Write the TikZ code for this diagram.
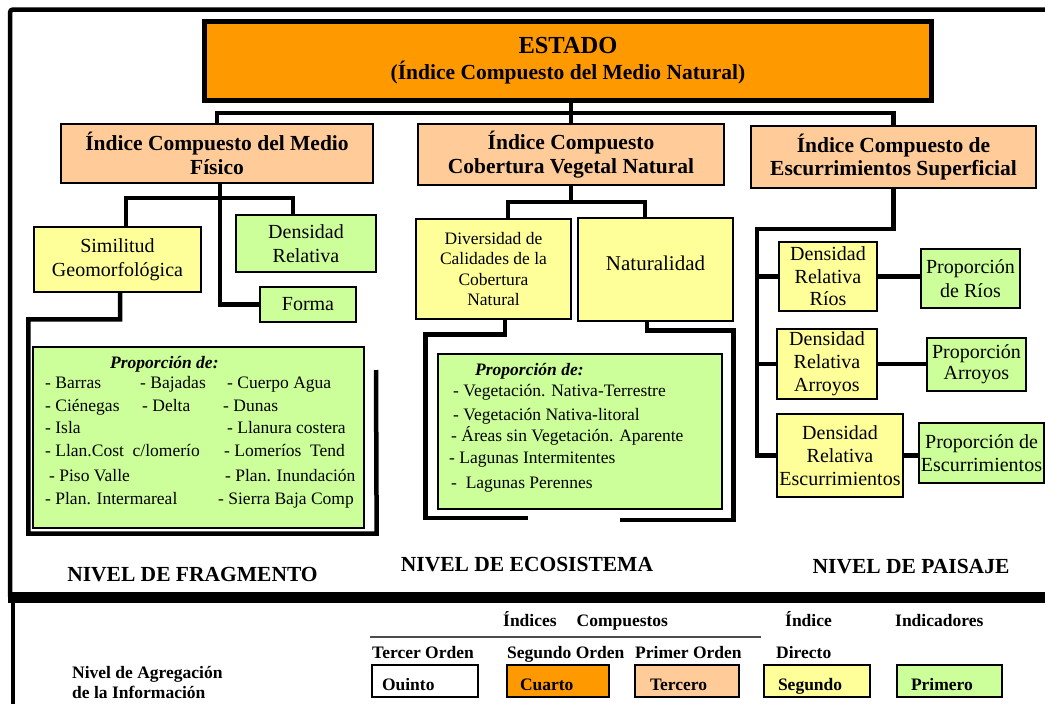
\documentclass[tikz,border=0pt]{standalone}
\usepackage{fontspec}
\setmainfont{Liberation Serif}
\usetikzlibrary{calc}
\definecolor{cOrange}{HTML}{FF9900}
\definecolor{cPeach}{HTML}{FFCC99}
\definecolor{cYellow}{HTML}{FFFF99}
\definecolor{cGreen}{HTML}{CCFF99}
\begin{document}
\begin{tikzpicture}[x=1pt,y=-1pt,
  box/.style={draw=black, line width=1.3pt, inner sep=0pt, align=center, font=\fontsize{20}{23}\selectfont},
  estado/.style={draw=black, line width=5pt, fill=cOrange, inner sep=0pt, align=center},
  peach/.style={box, fill=cPeach, font=\bfseries\fontsize{21.5}{23.5}\selectfont},
  yel/.style={box, fill=cYellow},
  grn/.style={box, fill=cGreen},
  conn/.style={line width=4.5pt},
  lst/.style={anchor=base west, inner sep=0pt, font=\fontsize{17.5}{20}\selectfont},
  hdr/.style={anchor=base west, inner sep=0pt, font=\bfseries\itshape\fontsize{17.5}{20}\selectfont},
  lvl/.style={inner sep=0pt, font=\bfseries\fontsize{21.5}{24}\selectfont},
  lg/.style={anchor=base west, inner sep=0pt, font=\bfseries\fontsize{17.5}{20}\selectfont},
  legbox/.style={draw=black, line width=1.3pt, minimum height=32pt, inner ysep=0pt, align=left,
     text height=18pt, text depth=0pt, font=\bfseries\fontsize{17.5}{20}\selectfont}
]
\useasboundingbox (0,0) rectangle (1045,704);
\clip (0,0) rectangle (1045,704);
\fill[white] (0,0) rectangle (1045,704);

% frames
\draw[line width=4.5pt, rounded corners=3pt] (1060,9.5) -- (10,9.5) -- (10,597);
\draw[line width=11pt] (8,597.5) -- (1060,597.5);
\draw[line width=4.5pt] (13,597) -- (13,712);

% level 1
\node[estado, minimum width=727pt, minimum height=79pt] (est) at (568,61)
  {\bfseries\fontsize{24.5}{28}\selectfont ESTADO\\[6pt]\bfseries\fontsize{21.5}{28}\selectfont (Índice Compuesto del Medio Natural)};

% level 2
\node[peach, minimum width=312pt, minimum height=59pt] (A) at (217,153.5) {Índice Compuesto del Medio\\Físico};
\node[peach, minimum width=306pt, minimum height=61pt] (B) at (571,154.5) {Índice Compuesto\\Cobertura Vegetal Natural};
\node[peach, minimum width=285pt, minimum height=62pt] (C) at (893.5,157) {Índice Compuesto de\\Escurrimientos Superficial};

% level 3 - fragmento
\node[yel, minimum width=167pt, minimum height=65pt, font=\fontsize{20}{24}\selectfont] (sim) at (117.5,259.5) {Similitud\\Geomorfológica};
\node[grn, minimum width=140pt, minimum height=57pt, font=\fontsize{20}{24}\selectfont] (dr) at (306,243.5) {Densidad\\Relativa};
\node[grn, minimum width=96pt, minimum height=35pt] (forma) at (308,304.5) {Forma};

% level 3 - ecosistema
\node[yel, minimum width=155pt, minimum height=100pt, font=\fontsize{17.5}{20.5}\selectfont] (div) at (493.5,269) {Diversidad de\\Calidades de la\\Cobertura\\Natural};
\node[yel, minimum width=155pt, minimum height=103pt, text depth=13pt, font=\fontsize{21}{24}\selectfont] (nat) at (655.5,269.5) {Naturalidad};

% level 3 - paisaje
\node[yel, minimum width=98pt, minimum height=69pt, font=\fontsize{20}{22.5}\selectfont] (drr) at (828,276.5) {Densidad\\Relativa\\Ríos};
\node[grn, minimum width=99pt, minimum height=59pt, font=\fontsize{20}{24}\selectfont] (pr) at (970.5,278.5) {Proporción\\de Ríos};
\node[yel, minimum width=100pt, minimum height=70pt, font=\fontsize{20}{23}\selectfont] (dra) at (827,364) {Densidad\\Relativa\\Arroyos};
\node[grn, minimum width=99pt, minimum height=53pt, font=\fontsize{20}{21}\selectfont] (pa) at (976.5,364.5) {Proporción\\Arroyos};
\node[yel, minimum width=126pt, minimum height=83pt, font=\fontsize{20}{23}\selectfont] (dre) at (840,455.5) {Densidad\\Relativa\\Escurrimientos};
\node[grn, minimum width=125pt, minimum height=60pt, font=\fontsize{20}{23}\selectfont] (pe) at (981.5,453) {Proporción de\\Escurrimientos};

% big green boxes
\node[grn, minimum width=331pt, minimum height=181pt] (fg) at (198.5,437.5) {};
\node[grn, minimum width=284pt, minimum height=155pt] (eco) at (580,431.5) {};

% fragment list
\node[hdr] (fh) at (110,368) {Proporción de:};
\node[lst] (f11) at (45,388) {- Barras};
\node[lst] (f12) at (140,388) {- Bajadas};
\node[lst] (f13) at (227,388) {- Cuerpo Agua};
\node[lst] (f21) at (45,411) {- Ciénegas};
\node[lst] (f22) at (142,411) {- Delta};
\node[lst] (f23) at (223,411) {- Dunas};
\node[lst] (f31) at (45,433) {- Isla};
\node[lst] (f33) at (227,433) {- Llanura costera};
\node[lst] (f41) at (45,456) {- Llan.Cost\ \ c/lomerío};
\node[lst] (f43) at (224,456) {- Lomeríos\ \ Tend};
\node[lst] (f51) at (49,481) {- Piso Valle};
\node[lst] (f53) at (225,481) {- Plan. Inundación};
\node[lst] (f61) at (45,504) {- Plan. Intermareal};
\node[lst] (f63) at (218,504) {- Sierra Baja Comp};

% ecosystem list
\node[hdr] (eh) at (475,375) {Proporción de:};
\node[lst] (e1t) at (453,396) {- Vegetación. Nativa-Terrestre};
\node[lst] (e2t) at (453,420) {- Vegetación Nativa-litoral};
\node[lst] (e3t) at (451,441) {- Áreas sin Vegetación. Aparente};
\node[lst] (e4t) at (449,463) {- Lagunas Intermitentes};
\node[lst] (e5t) at (451,488) {-\ \ Lagunas Perennes};

% connectors top
\coordinate (t1) at (571,113);
\draw[conn] (est.south -| B.north) -- (B.north);
\draw[conn] (A.north) |- (t1) -| (C.north);

% connectors fragment
\coordinate (a1) at (220,198);
\draw[conn] ([xshift=8.5pt]sim.north) |- (a1) -| ([xshift=-13pt]dr.north);
\draw[conn] ([xshift=3pt]A.south) |- (forma.west);
\coordinate (f1) at (376,370);
\draw[conn] ([xshift=2.5pt]sim.south) |- ($(fg.north west)+(-4,-27)$) |- ($(fg.south east)+(12,5)$) -- (f1);

% connectors ecosystem
\draw[conn] (B.south) |- (508,202) -- ([xshift=14.5pt]div.north);
\draw[conn] (B.south) |- (645,202) -- ([xshift=-10.5pt]nat.north);
\coordinate (e1) at (528,518);
\coordinate (e2) at (620,520);
\draw[conn] ([xshift=11.5pt]div.south) |- ($(eco.north west)+(-12,-19)$) |- (e1);
\draw[conn] ([xshift=-8.5pt]nat.south) |- ($(eco.north east)+(11,-23)$) |- (e2);

% connectors landscape
\coordinate (r1) at (757,229);
\draw[conn] (C.south) |- (r1) |- (dre.west);
\draw[conn] (r1 |- drr.west) -- (drr.west);
\draw[conn] (r1 |- dra.west) -- (dra.west);
\draw[conn] (drr.east) -- (drr.east -| pr.west);
\draw[conn] (dra.east) -- (dra.east -| pa.west);
\draw[conn] (dre.east) -- (dre.east -| pe.west);

% level labels
\node[lvl] (nf) at (192.5,575) {NIVEL DE FRAGMENTO};
\node[lvl] (ne) at (527,565) {NIVEL DE ECOSISTEMA};
\node[lvl] (np) at (911,567) {NIVEL DE PAISAJE};

% legend
\node[anchor=west, inner sep=0pt, align=left, font=\bfseries\fontsize{17.5}{20}\selectfont] (nag) at (72,682) {Nivel de Agregación\\de la Información};
\node[lg] (ic) at (503,626) {Índices\hspace{20pt}Compuestos};
\node[lg] (id) at (785,626) {Índice};
\node[lg] (ind) at (895,626) {Indicadores};
\coordinate (l1) at (370,637);
\coordinate (l2) at (761,637);
\draw[line width=1.5pt, black!70] (l1) -- (l2);
\node[lg] (o3) at (372,658) {Tercer Orden};
\node[lg] (o2) at (507,658) {Segundo Orden};
\node[lg] (o1) at (635,658) {Primer Orden};
\node[lg] (od) at (776,658) {Directo};
\node[legbox, fill=white, text width=86pt, inner xsep=10pt] (b5) at (425,681) {Ouinto};
\node[legbox, fill=cOrange, text width=76pt, inner xsep=13pt] (b4) at (558,681) {Cuarto};
\node[legbox, fill=cPeach, text width=74pt, inner xsep=15pt] (b3) at (687,681) {Tercero};
\node[legbox, fill=cYellow, text width=78pt, inner xsep=14pt] (b2) at (817,681) {Segundo};
\node[legbox, fill=cGreen, text width=77pt, inner xsep=14pt] (b1) at (949.5,681) {Primero};
\end{tikzpicture}
\end{document}
